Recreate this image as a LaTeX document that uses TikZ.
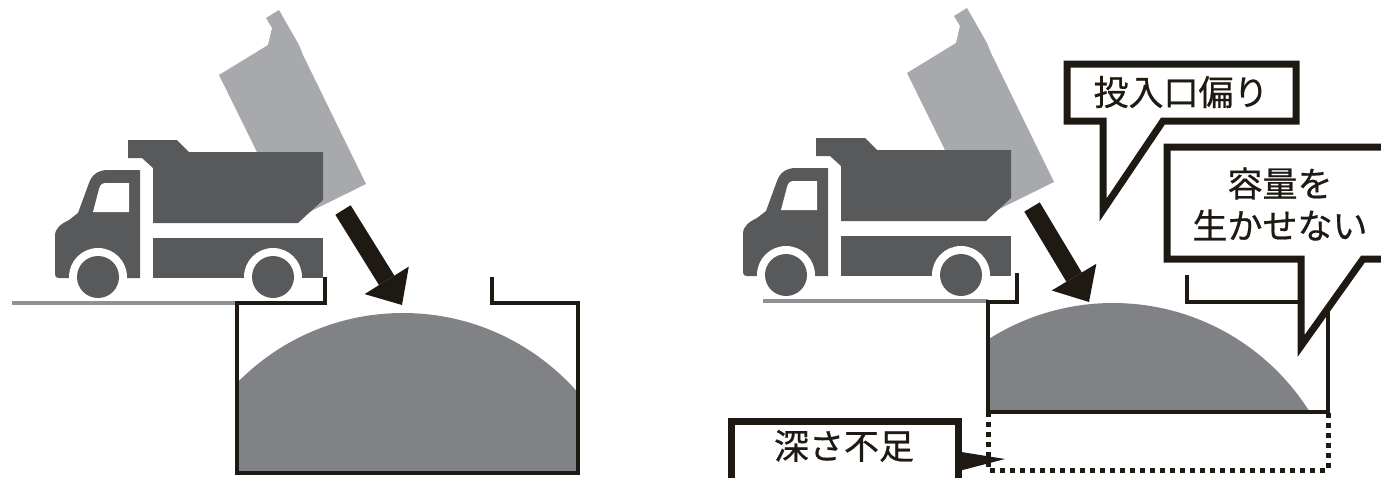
\documentclass[tikz,border=0pt]{standalone}
\usepackage{fontspec}
\newfontfamily\jp[FakeBold=0.6]{Noto Sans CJK JP}
\usetikzlibrary{arrows.meta}

\definecolor{nero}{HTML}{1E1912}
\definecolor{scuro}{HTML}{58595B}
\definecolor{chiaro}{HTML}{A7A9AC}
\definecolor{cumulo}{HTML}{808285}
\definecolor{suolo}{HTML}{8E9093}

\tikzset{
  parete/.style={draw=nero, line width=4pt},
  tratteggio/.style={draw=nero, line width=5pt, dash pattern=on 5pt off 5pt},
  freccia/.style={draw=nero, line width=18pt, -{Triangle[length=29pt,width=52pt,line width=0pt]}},
  fumetto/.style={draw=nero, fill=white, line width=7pt},
  scritta/.style={font=\jp\fontsize{35pt}{42pt}\selectfont, text=nero, inner sep=0pt, align=center},
}

\begin{document}
\begin{tikzpicture}[x=1pt,y=-1pt]
  \useasboundingbox (0,0) rectangle (1381,477);

  % camion (sinistra e destra)
  \foreach \dx/\dy in {0/0,688/-2}{
    \begin{scope}[shift={(\dx,\dy)}]
      % cassone alzato
      \fill[chiaro] (219,75) -- (268,45) -- (272,28) -- (266,18) -- (279,10) -- (299,45)
        -- (303,55) -- (366,184) -- (291,221) -- cycle;
      % cabina
      \fill[scuro] (55,274) -- (55,236) .. controls (55,228) and (61,224) .. (69,220)
        -- (78,213) -- (89,183) .. controls (92,174) and (99,170) .. (108,170)
        -- (140,170) -- (140,278) -- (59,278) .. controls (56,278) and (55,277) .. (55,274) -- cycle;
      \fill[white] (93,212) -- (99,189) .. controls (100,185) and (102,183) .. (106,183)
        -- (129,183) -- (129,212) -- cycle;
      % cassone e telaio
      \fill[scuro] (128,140) -- (177,140) -- (189,152) -- (323,152) -- (323,200) -- (298,223)
        -- (153,223) -- (153,168) -- (142,158) -- (128,158) -- cycle;
      \fill[scuro] (153,238) rectangle (323,278);
      % ruote
      \foreach \r in {98,273}{
        \fill[white] (\r,277) circle (29pt);
        \fill[scuro] (\r,277) circle (21pt);
      }
    \end{scope}
  }

  % terreno
  \draw[suolo,line width=4pt] (12,303) -- (237,303);
  \draw[suolo,line width=4pt] (763,301) -- (988,301);

  % cumuli
  \begin{scope}
    \clip (237,290) rectangle (578,473);
    \fill[cumulo] (403,545) circle (232pt);
  \end{scope}
  \begin{scope}
    \clip (988,290) rectangle (1328,412);
    \fill[cumulo] (1113,535) circle (232pt);
  \end{scope}

  % fosse
  \draw[parete] (325,277) -- (325,303) -- (237,303) -- (237,473) -- (578,473)
    -- (578,303) -- (492,303) -- (492,277);
  \draw[parete] (1017,273) -- (1017,302) -- (988,302) -- (988,412) -- (1328,412)
    -- (1328,302) -- (1187,302) -- (1187,275);
  \draw[tratteggio] (988,412) -- (988,470) -- (1328,470) -- (1328,412);

  % scarico
  \coordinate (codaA) at (343,210);
  \coordinate (puntaA) at (402,305);
  \coordinate (codaB) at (1032,207);
  \coordinate (puntaB) at (1089,302);
  \draw[freccia] (codaA) -- (puntaA);
  \draw[freccia] (codaB) -- (puntaB);

  % fumetti
  \draw[fumetto] (1067,64) -- (1296,64) -- (1296,121) -- (1163,121) -- (1103,210)
    -- (1103,121) -- (1067,121) -- cycle;
  \node[scritta] (bocca) at (1181,92) {投入口偏り};

  \draw[fumetto] (1167,147) -- (1393,147) -- (1393,259) -- (1363,259) -- (1301,346)
    -- (1301,259) -- (1167,259) -- cycle;
  \node[scritta] (volume) at (1280,204) {容量を\\生かせない};

  \draw[fumetto] (731,421) -- (958,421) -- (958,495) -- (731,495) -- cycle;
  \fill[nero] (955,451) -- (1005,459) -- (955,472) -- cycle;
  \node[scritta] (fondo) at (844,446) {深さ不足};
\end{tikzpicture}
\end{document}
